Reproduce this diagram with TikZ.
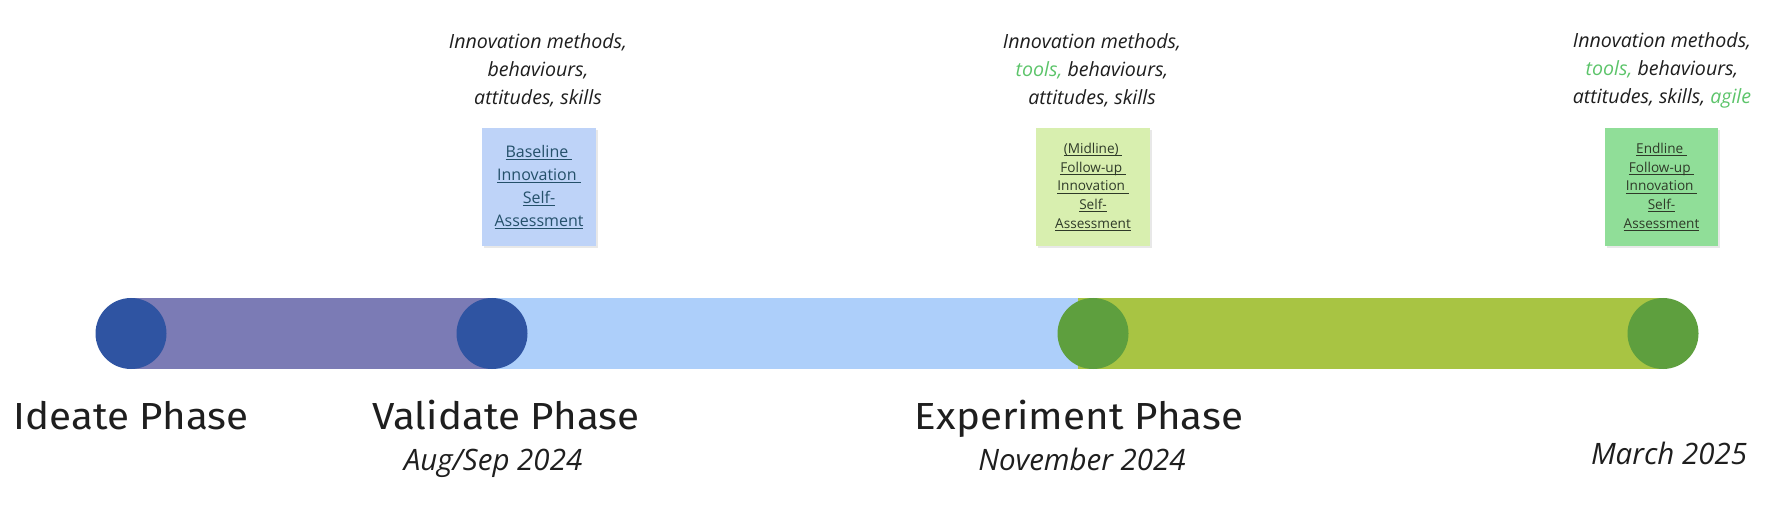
\documentclass[tikz,border=0pt]{standalone}
\usepackage{fontspec}
\setmainfont{Open Sans}
\newfontfamily\phasefont{Fira Sans}
\usetikzlibrary{backgrounds,shadows}
\definecolor{barpurple}{HTML}{7B7BB5}
\definecolor{barblue}{HTML}{ADCFFA}
\definecolor{bargreen}{HTML}{A8C443}
\definecolor{dotblue}{HTML}{2F54A2}
\definecolor{dotgreen}{HTML}{5E9F3E}
\definecolor{noteblue}{HTML}{BED3F8}
\definecolor{notelime}{HTML}{D8EFAF}
\definecolor{notegreen}{HTML}{90DE98}
\definecolor{notetextblue}{HTML}{24506A}
\definecolor{notetextdark}{HTML}{2E3A28}
\definecolor{hlgreen}{HTML}{5CC46A}
\definecolor{txt}{HTML}{1E1E1E}
\newcommand\myul[1]{\setbox0\hbox{#1}\rlap{\rule[-2.6pt]{\wd0}{0.9pt}}\box0}
\newcommand\hl[1]{\textcolor{hlgreen}{#1}}
\newcommand\phasetext[1]{\scalebox{1.07}[1]{#1}}
\begin{document}
\begin{tikzpicture}[x=1pt,y=-1pt,
  dot/.style={circle,inner sep=0pt,outer sep=0pt,minimum size=71pt},
  note/.style={inner sep=0pt,outer sep=0pt,minimum height=118pt,align=center,
    drop shadow={opacity=0.18,shadow xshift=1.5pt,shadow yshift=-2.5pt}},
  notebig/.style={note,font=\fontsize{16}{23}\selectfont,text=notetextblue},
  notesmall/.style={note,font=\fontsize{13.6}{18.6}\selectfont,text=notetextdark},
  head/.style={align=center,inner sep=0pt,font=\fontsize{19.6}{28}\selectfont\itshape,text=txt},
  phase/.style={anchor=base,inner sep=0pt,font=\phasefont\fontsize{37.7}{44}\selectfont,text=txt},
  date/.style={anchor=base,inner sep=0pt,font=\fontsize{29.5}{34}\selectfont\itshape,text=txt}]
\useasboundingbox (0,0) rectangle (1784,526);
% dots
\node[dot,fill=dotblue] (c1) at (131,333.5) {};
\node[dot,fill=dotblue] (c2) at (492,333.5) {};
\node[dot,fill=dotgreen] (c3) at (1093,333.5) {};
\node[dot,fill=dotgreen] (c4) at (1663,333.5) {};
\coordinate (t) at (1078,298);
\begin{scope}[on background layer]
\fill[barpurple] (c1.north) rectangle (c2.south);
\fill[barblue] (c2.north) rectangle (t |- c3.south);
\fill[bargreen] (t) rectangle (c4.south);
\end{scope}
% notes
\node[notebig,fill=noteblue,minimum width=114pt] (b1) at (539,187)
  {\myul{Baseline\ }\\\myul{Innovation\ }\\\myul{Self-}\\\myul{Assessment}};
\node[notesmall,fill=notelime,minimum width=114pt] (b2) at (1093,187)
  {\myul{(Midline)\ }\\\myul{Follow-up\ }\\\myul{Innovation\ }\\\myul{Self-}\\\myul{Assessment}};
\node[notesmall,fill=notegreen,minimum width=113pt] (b3) at (1661.5,187)
  {\myul{Endline\ }\\\myul{Follow-up\ }\\\myul{Innovation\ }\\\myul{Self-}\\\myul{Assessment}};
% headers
\node[head] (h1) at (538,70) {Innovation methods,\\behaviours,\\attitudes, skills};
\node[head] (h2) at (1092,70) {Innovation methods,\\\hl{tools,} behaviours,\\attitudes, skills};
\node[head] (h3) at (1662,70) {Innovation methods,\\\hl{tools,} behaviours,\\attitudes, skills, \hl{agile}};
% phase labels
\node[phase] (p1) at (131,429) {\phasetext{Ideate Phase}};
\node[phase] (p2) at (506,429) {\phasetext{Validate Phase}};
\node[phase] (p3) at (1079,429) {\phasetext{Experiment Phase}};
\node[date] (d1) at (493,470) {Aug/Sep 2024};
\node[date] (d2) at (1082,470) {November 2024};
\node[date] (d3) at (1669,464) {March 2025};
\end{tikzpicture}
\end{document}
